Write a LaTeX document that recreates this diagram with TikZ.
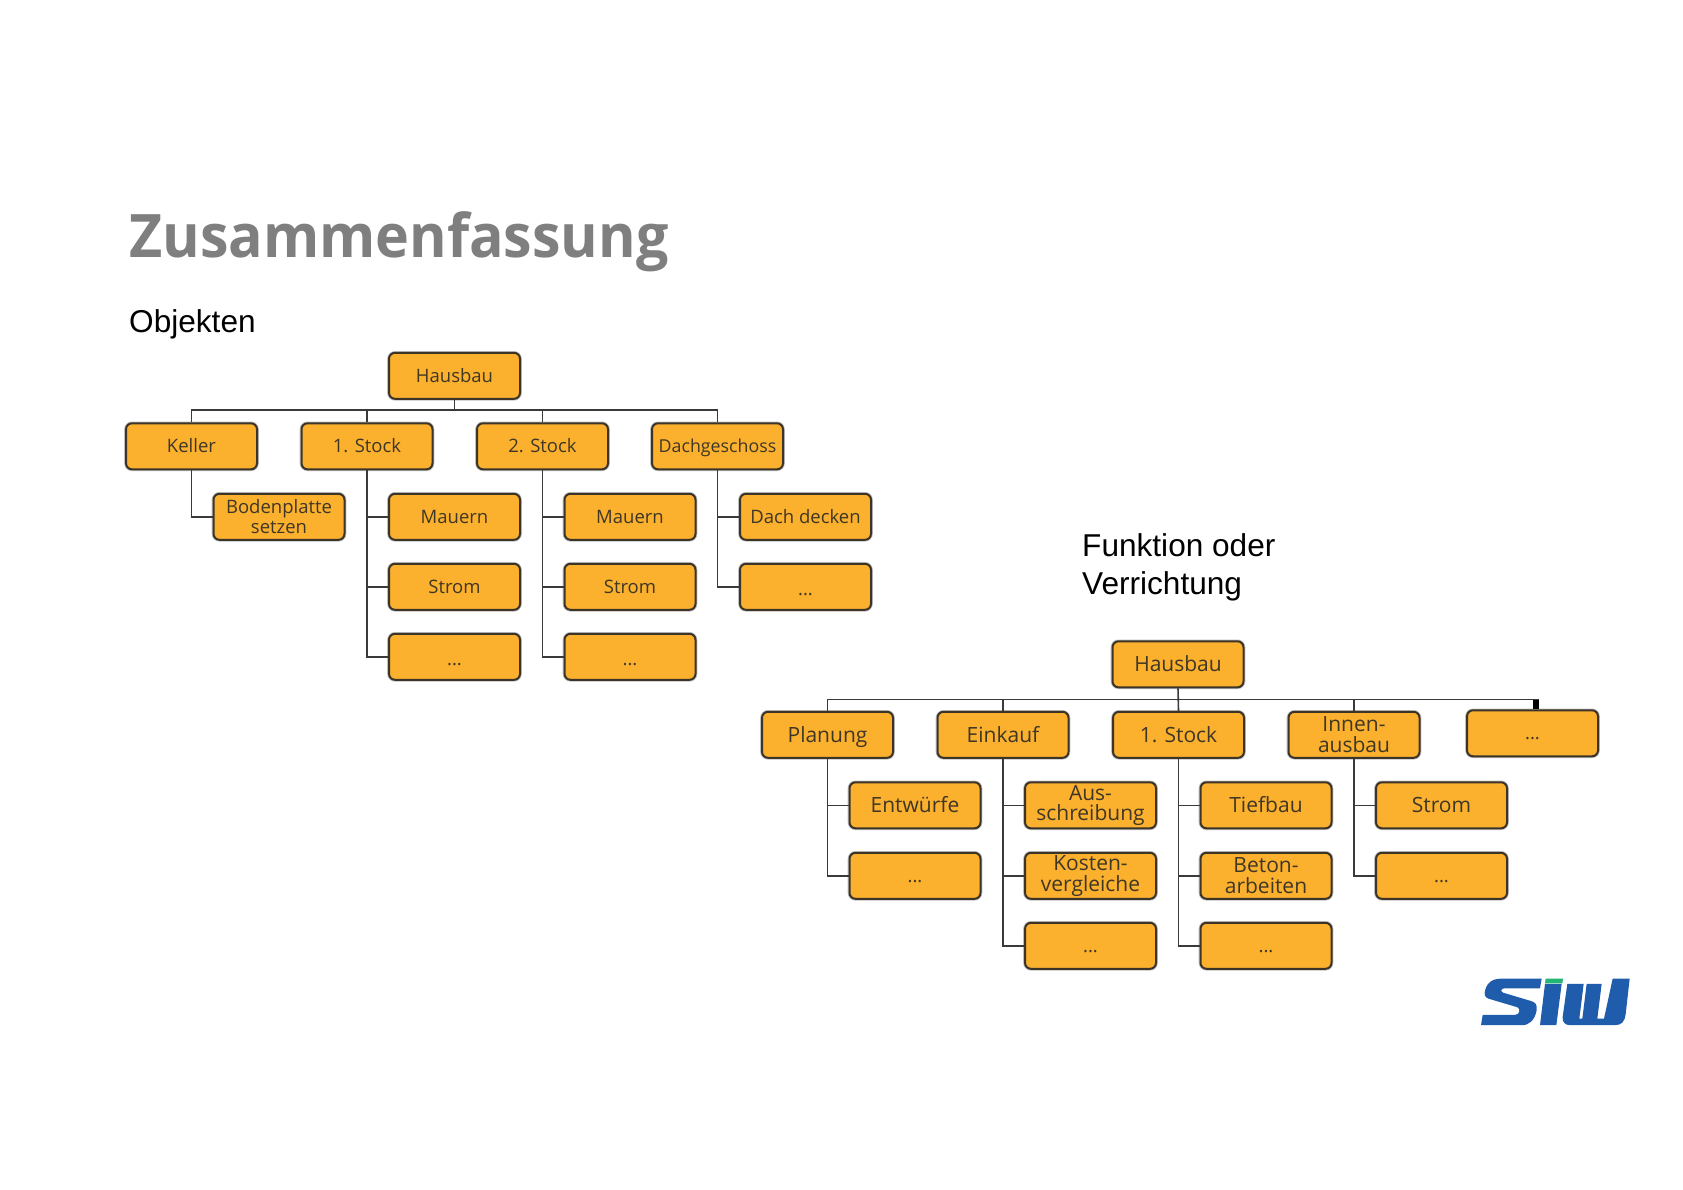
\documentclass[tikz,border=0pt]{standalone}
\usepackage{fontspec}
\usetikzlibrary{calc}
\setmainfont{Open Sans}
\newfontfamily\titlefont[FakeStretch=0.955]{Open Sans}
\newfontfamily\labelfont{Liberation Sans}
\definecolor{boxfill}{HTML}{FBB02E}
\definecolor{boxline}{HTML}{3D3428}
\definecolor{boxtext}{HTML}{3F3726}
\definecolor{linecol}{HTML}{3A3A3A}
\definecolor{titlecol}{HTML}{7F7F7F}
\definecolor{logoblue}{HTML}{1F5CAC}
\definecolor{logogreen}{HTML}{22B573}
\tikzset{
  bx/.style={rectangle,rounded corners=6pt,draw=boxline,line width=2pt,fill=boxfill,
    preaction={draw=black!25,line width=3.6pt},
    minimum width=131pt,minimum height=46pt,inner sep=0pt,align=center,
    text=boxtext,font=\fontsize{18.5}{20.5}\selectfont},
  bxs/.style={bx,text height=15pt,text depth=2pt},
  dots/.style={bx,text height=20pt,text depth=2.6pt},
  rb/.style={bx,font=\fontsize{21}{20.5}\selectfont},
  rbs/.style={rb,text height=16pt,text depth=1pt},
  rdots/.style={bx,text height=17pt,text depth=4pt},
  conn/.style={draw=linecol,line width=1.6pt},
  lbl/.style={anchor=base west,inner sep=0pt,text=black,font=\fontsize{31.6}{37.5}\labelfont,align=left},
  ttl/.style={anchor=base west,inner sep=0pt,text=titlecol,font=\fontsize{60}{60}\titlefont\bfseries}
}
\begin{document}
\begin{tikzpicture}[x=1pt,y=-1pt]
\useasboundingbox[fill=white] (0,0) rectangle (1683,1190);
\node[ttl] (title) at (129,258) {Zusammenfassung};
\node[lbl] (obj) at (129,332) {Objekten};
\node[lbl] (fkt) at (1082,594) {Funktion oder\\Verrichtung};

% left tree
\coordinate (busA) at (0,410);
\node[bxs] (A) at (454.5,375.8) {Hausbau};
\node[bxs] (A1) at (191.5,446.3) {Keller};
\node[bxs] (A2) at (367,446.3) {1. Stock};
\node[bxs] (A3) at (542.5,446.3) {2. Stock};
\node[bxs,font=\fontsize{17.8}{20.5}\selectfont] (A4) at (717.5,446.3) {Dachgeschoss};
\node[bx]  (A11) at (279,516.8) {Bodenplatte\\setzen};
\node[bxs] (A21) at (454.5,516.8) {Mauern};
\node[bxs] (A22) at (454.5,586.8) {Strom};
\node[dots] (A23) at (454.5,656.8) {...};
\node[bxs] (A31) at (630,516.8) {Mauern};
\node[bxs] (A32) at (630,586.8) {Strom};
\node[dots] (A33) at (630,656.8) {...};
\node[bxs] (A41) at (805.5,516.8) {Dach decken};
\node[dots] (A42) at (805.5,586.8) {...};
\draw[conn] (A.south) -- (A.south |- busA);
\draw[conn] (A1.north) -- (A1.north |- busA) -- (A4.north |- busA) -- (A4.north);
\draw[conn] (A2.north) -- (A2.north |- busA);
\draw[conn] (A3.north) -- (A3.north |- busA);
\draw[conn] (A1.south) |- (A11.west);
\draw[conn] (A2.south) |- (A21.west);
\draw[conn] (A2.south) |- (A22.west);
\draw[conn] (A2.south) |- (A23.west);
\draw[conn] (A3.south) |- (A31.west);
\draw[conn] (A3.south) |- (A32.west);
\draw[conn] (A3.south) |- (A33.west);
\draw[conn] (A4.south) |- (A41.west);
\draw[conn] (A4.south) |- (A42.west);

% right tree
\coordinate (busB) at (0,699.5);
\coordinate (stub) at (1536,699.5);
\node[rbs] (B) at (1178,664.3) {Hausbau};
\node[rbs] (B1) at (827.5,734.8) {Planung};
\node[rbs] (B2) at (1003,734.8) {Einkauf};
\node[rbs] (B3) at (1178.5,734.8) {1. Stock};
\node[rb]  (B4) at (1354,734.8) {Innen-\\ausbau};
\node[rdots] (B5) at (1532.5,733.3) {...};
\node[rbs] (B11) at (915,805.3) {Entwürfe};
\node[rdots] (B12) at (915,875.8) {...};
\node[rb]  (B21) at (1090.5,805.3) {Aus-\\schreibung};
\node[rb]  (B22) at (1090.5,875.8) {Kosten-\\vergleiche};
\node[rdots] (B23) at (1090.5,945.8) {...};
\node[rbs] (B31) at (1266,805.3) {Tiefbau};
\node[rb]  (B32) at (1266,875.8) {Beton-\\arbeiten};
\node[rdots] (B33) at (1266,945.8) {...};
\node[rbs] (B41) at (1441.5,805.3) {Strom};
\node[rdots] (B42) at (1441.5,875.8) {...};
\draw[conn] (B.south) -- (B3.north);
\draw[conn] (B1.north) -- (B1.north |- busB) -- ($(stub)+(3,0)$);
\draw[conn] (B2.north) -- (B2.north |- busB);
\draw[conn] (B4.north) -- (B4.north |- busB);
\draw[draw=black,line width=6pt] (stub) -- (stub |- B5.north);
\draw[conn] (B1.south) |- (B11.west);
\draw[conn] (B1.south) |- (B12.west);
\draw[conn] (B2.south) |- (B21.west);
\draw[conn] (B2.south) |- (B22.west);
\draw[conn] (B2.south) |- (B23.west);
\draw[conn] (B3.south) |- (B31.west);
\draw[conn] (B3.south) |- (B32.west);
\draw[conn] (B3.south) |- (B33.west);
\draw[conn] (B4.south) |- (B41.west);
\draw[conn] (B4.south) |- (B42.west);

% logo
\begin{scope}[shift={(1480,969.3)},x=0.3333pt,y=-0.345pt]
\fill[logoblue] (185,27) -- (65,27) .. controls (35,27) and (18,40) .. (14,68)
  .. controls (13,80) and (20,84) .. (32,87) -- (112,110)
  .. controls (122,114) and (120,132) .. (105,132) -- (8,132) -- (3,162) -- (125,162)
  .. controls (150,162) and (165,145) .. (170,118)
  .. controls (172,100) and (165,95) .. (150,91) -- (70,68)
  .. controls (60,64) and (62,55) .. (75,55) -- (180,55) -- cycle;
\fill[logoblue] (195,42) -- (245,42) -- (229,162) -- (180,162) -- cycle;
\fill[logogreen] (197,27) -- (249,27) -- (247,41) -- (195,41) -- cycle;
\fill[logoblue] (262,42) -- (311,42) -- (298,143) -- (307,143) -- (320,42) -- (365,42)
  -- (352,143) -- (372,143) -- (398,27) -- (449,27) -- (437,130)
  .. controls (435,150) and (425,162) .. (405,162) -- (270,162)
  .. controls (255,162) and (246,152) .. (248,138) -- cycle;
\end{scope}
\end{tikzpicture}
\end{document}
